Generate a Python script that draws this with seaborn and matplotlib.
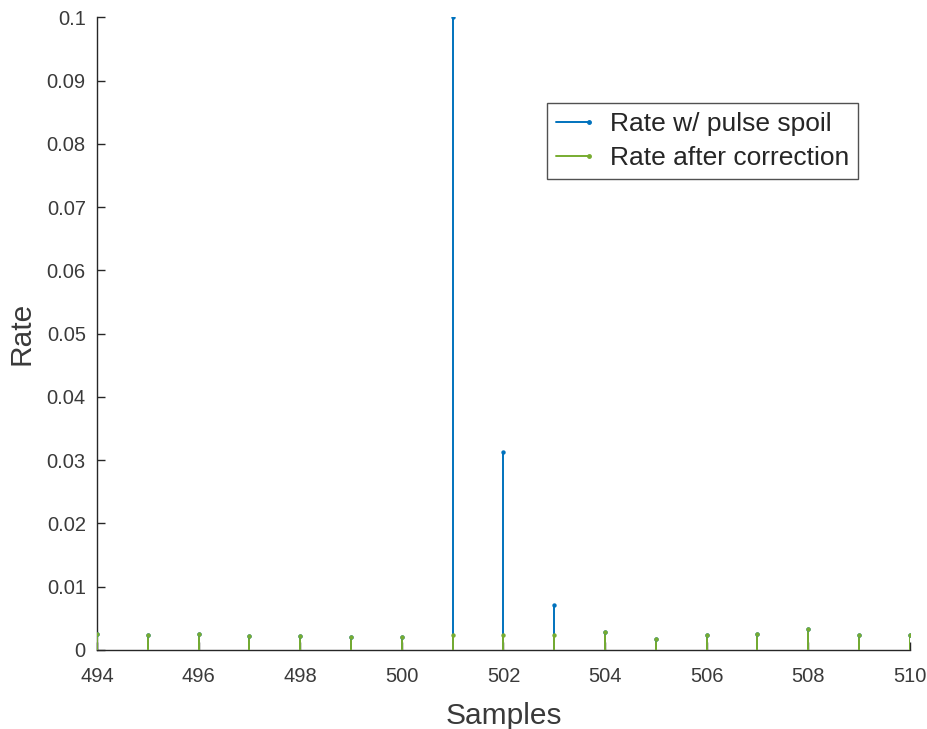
import numpy as np
import pandas as pd
import seaborn as sns
import matplotlib
matplotlib.use("Agg")
import matplotlib.pyplot as plt
from matplotlib.lines import Line2D
from matplotlib.legend_handler import HandlerLine2D

samples = list(range(494, 511))
rate_spoil = [0.0025, 0.0024, 0.0026, 0.0022, 0.0022, 0.0021, 0.0020, 0.1,
              0.0313, 0.0071, 0.0029, 0.0018, 0.0023, 0.0026, 0.0033, 0.0023, 0.0023]
rate_corr = [0.0025, 0.0024, 0.0026, 0.0022, 0.0022, 0.0021, 0.0020, 0.0024,
             0.0024, 0.0024, 0.0029, 0.0018, 0.0023, 0.0026, 0.0033, 0.0023, 0.0023]
series_names = ["Rate w/ pulse spoil", "Rate after correction"]
colors = ["#0072BD", "#77AC30"]

df = pd.DataFrame({
    "Samples": samples * 2,
    "Rate": rate_spoil + rate_corr,
    "Series": [series_names[0]] * len(samples) + [series_names[1]] * len(samples),
})

sns.set_theme(style="ticks")
plt.rcParams["font.family"] = ["Liberation Sans", "DejaVu Sans"]

fig = plt.figure(figsize=(9.28, 7.29), dpi=100)
ax = fig.add_axes([0.1045, 0.1084, 0.876, 0.8676])

for name, col in zip(series_names, colors):
    sub = df[df["Series"] == name]
    ax.vlines(sub["Samples"], 0, sub["Rate"], color=col, lw=1.4, zorder=2)
    sns.scatterplot(data=sub, x="Samples", y="Rate", color=col, s=10,
                    edgecolor=col, linewidth=0, ax=ax, zorder=3, legend=False)

ax.set_xlim(494, 510)
ax.set_ylim(0, 0.1)
ax.set_xticks(range(494, 511, 2))
yt = np.round(np.arange(0, 0.1001, 0.01), 2)
ax.set_yticks(yt)
ax.set_yticklabels(["0" if v == 0 else f"{v:g}" for v in yt])
sns.despine(ax=ax)
ax.tick_params(direction="in", length=6, width=1, color="#262626",
               labelcolor="#3a3a3a", labelsize=14.5)
ax.tick_params(axis="y", pad=8)
ax.tick_params(axis="x", pad=12.5)
for s in ["left", "bottom"]:
    ax.spines[s].set_color("#262626")
    ax.spines[s].set_linewidth(1.0)
    ax.spines[s].set_zorder(1)
ax.set_xlabel("Samples", fontsize=21.5, color="#3a3a3a", labelpad=11)
ax.set_ylabel("Rate", fontsize=21.5, color="#3a3a3a", labelpad=8)


class EndMarkerHandler(HandlerLine2D):
    def create_artists(self, legend, orig_handle, xdescent, ydescent,
                       width, height, fontsize, trans):
        y = height / 2 - ydescent
        line = Line2D([-xdescent, width - xdescent], [y, y],
                      color=orig_handle.get_color(), lw=1.4)
        mk = Line2D([width - xdescent], [y], marker="o", ms=2.5,
                    color=orig_handle.get_color(), lw=0)
        line.set_transform(trans)
        mk.set_transform(trans)
        return [line, mk]


handles = [Line2D([], [], color=c) for c in colors]
leg = ax.legend(handles, series_names, loc="upper left",
                bbox_to_anchor=(0.5535, 0.865), borderaxespad=0,
                fontsize=19, frameon=True,
                fancybox=False, edgecolor="#262626", handlelength=1.25,
                handletextpad=0.8, borderpad=0.34, labelspacing=0.4,
                handler_map={Line2D: EndMarkerHandler()})
leg.get_frame().set_linewidth(1.0)
for t in leg.get_texts():
    t.set_color("#262626")

fig.savefig("out.png", dpi=100, facecolor="white")
